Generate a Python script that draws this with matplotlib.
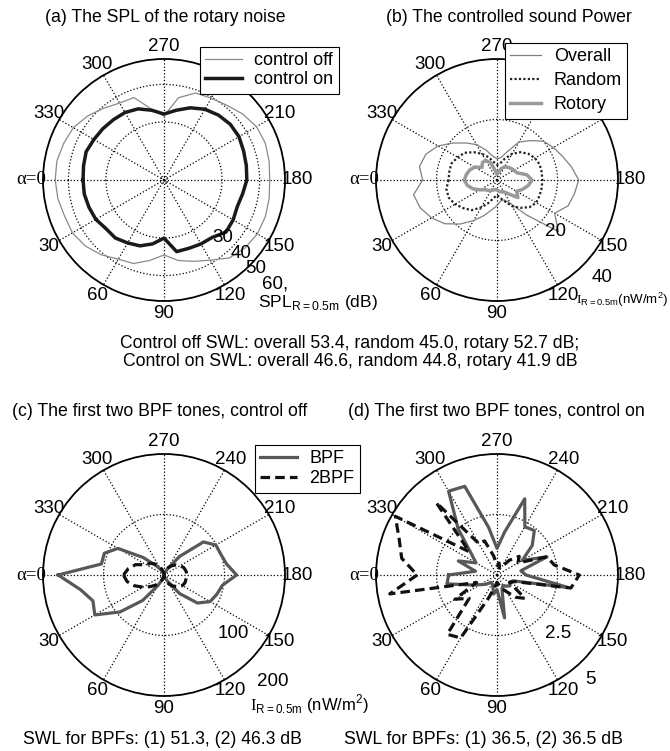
import numpy as np
import matplotlib.pyplot as plt
from matplotlib.lines import Line2D

W, H = 670, 751
plt.rcParams['font.family'] = ['Liberation Sans', 'DejaVu Sans']
plt.rcParams['font.size'] = 12.7
plt.rcParams['mathtext.fontset'] = 'custom'
plt.rcParams['mathtext.rm'] = 'Liberation Serif'
plt.rcParams['mathtext.sf'] = 'Liberation Sans'

# measurement angles (deg), alpha = 0 on the left, 90 at the bottom
angles_deg = [0, 10, 20, 30, 40, 50, 60, 70, 80, 90, 100, 110,
              120, 130, 140, 150, 160, 170, 180, 190, 200, 210, 220, 230,
              240, 250, 260, 270, 280, 290, 300, 310, 320, 330, 340, 350]

# (a) SPL of the rotary noise at R = 0.5 m, dB
spl_off = [55.2, 54.8, 54.0, 54.0, 52.8, 50.8, 48.9, 48.2, 46.3, 44.5, 46.3, 47.6,
           49.2, 52.4, 54.0, 54.8, 54.8, 54.4, 54.0, 54.4, 54.8, 54.4, 52.8, 50.8,
           49.7, 49.2, 46.8, 41.6, 43.7, 47.9, 48.2, 49.5, 51.6, 53.6, 54.4, 55.2]
spl_on = [46.1, 46.1, 45.8, 45.5, 44.7, 44.7, 43.9, 43.2, 41.8, 40.0, 43.9, 43.9,
          44.2, 44.5, 46.1, 45.8, 45.3, 45.8, 46.6, 46.8, 47.1, 47.6, 47.6, 47.1,
          46.3, 45.0, 43.4, 42.1, 43.4, 44.7, 45.3, 45.5, 45.8, 46.1, 46.6, 46.3]

# (b) controlled intensity, nW/m^2
i_overall = [24.6, 28.0, 27.0, 25.0, 22.5, 19.0, 15.5, 12.5, 10.0, 8.5, 7.0, 7.0,
             9.0, 15.0, 26.5, 22.0, 25.0, 26.0, 27.0, 25.0, 23.0, 21.5, 20.0, 17.0,
             14.5, 10.0, 7.5, 7.0, 8.0, 10.5, 13.5, 16.0, 19.0, 22.5, 25.0, 26.0]
i_random = [16.0, 17.0, 17.0, 16.0, 14.5, 13.0, 10.5, 8.0, 6.0, 5.0, 6.0, 7.5,
            10.0, 12.0, 14.0, 15.0, 15.0, 15.0, 15.0, 15.0, 15.0, 14.5, 13.5, 12.0,
            10.0, 7.5, 5.5, 5.0, 6.0, 8.0, 10.0, 12.0, 14.0, 15.0, 16.0, 16.0]
i_rotory = [10.8, 10.0, 8.5, 6.5, 5.0, 4.5, 4.0, 3.5, 3.2, 3.3, 3.8, 4.2,
            4.5, 6.0, 9.0, 7.5, 9.0, 10.5, 11.6, 10.0, 7.0, 6.5, 6.0, 5.5,
            5.0, 4.0, 2.5, 1.8, 3.0, 6.0, 7.5, 7.5, 6.5, 8.5, 9.6, 10.3]

# (c) BPF tones, control off, nW/m^2
bpf_off = [175, 140, 125, 132, 95, 55, 20, 8, 4, 2, 3, 5,
           12, 40, 72, 88, 93, 98, 120, 105, 100, 99, 85, 40,
           12, 5, 3, 2, 3, 5, 10, 20, 45, 88, 105, 105]
bpf2_off = [67, 62, 52, 40, 30, 22, 14, 8, 3, 1, 6, 12,
            18, 24, 30, 35, 37, 37, 38, 37, 35, 31, 26, 20,
            14, 8, 3, 1, 4, 10, 17, 24, 30, 34, 50, 60]

# (d) BPF tones, control on, nW/m^2
bpf_on = [2.0, 2.1, 1.2, 0.8, 0.6, 0.4, 0.4, 0.5, 0.8, 0.6, 1.8, 0.6,
          0.5, 0.6, 0.7, 0.6, 0.7, 3.0, 1.2, 1.0, 2.2, 1.2, 1.9, 2.4,
          2.3, 3.35, 1.8, 1.1, 2.0, 3.9, 4.0, 2.5, 1.4, 1.0, 1.7, 0.9]
bpf2_on = [3.3, 4.5, 0.9, 2.0, 1.5, 3.2, 3.0, 1.0, 0.5, 0.3, 0.4, 0.6,
           0.8, 1.2, 1.5, 0.6, 0.8, 3.1, 3.4, 2.4, 2.2, 1.0, 1.2, 0.8,
           0.4, 0.3, 0.5, 0.4, 0.8, 1.5, 1.5, 3.9, 1.5, 4.85, 4.3, 4.0]

# SPL rings are not evenly spaced on the radius
spl_knots = [29.4, 30, 40, 50, 60]
spl_pos = [0.0, 0.025, 0.48, 0.79, 1.0]


def spl_fwd(v):
    return np.interp(v, spl_knots, spl_pos)


def spl_inv(p):
    return np.interp(p, spl_pos, spl_knots)


def closed(vals):
    th = np.deg2rad(angles_deg + [angles_deg[0]])
    return th, np.asarray(list(vals) + [vals[0]])


def box(cx, cy, r=121):
    return [(cx - r) / W, 1 - (cy + r) / H, 2 * r / W, 2 * r / H]


def ftext(x, y, s, **kw):
    fig.text(x / W, 1 - y / H, s, **kw)


def setup(ax, rmin, rmax, rings):
    ax.set_theta_zero_location('W')
    ax.set_theta_direction(1)
    ax.set_rlim(rmin, rmax)
    ax.set_xticks(np.deg2rad(np.arange(0, 360, 30)))
    ax.set_xticklabels([])
    ax.set_yticks(rings)
    ax.set_yticklabels([])
    ax.grid(True, color='black', linestyle=':', linewidth=0.9)
    ax.spines['polar'].set_linewidth(1.3)
    for a in range(0, 360, 30):
        t = np.deg2rad(a)
        x = 0.5 - 0.55 * np.cos(t)
        y = 0.5 - 0.55 * np.sin(t)
        if a == 0:
            ax.text(x, y, 'α=0', transform=ax.transAxes, ha='center', va='center',
                    family='Liberation Serif', fontsize=13.5)
        else:
            ax.text(x, y, str(a), transform=ax.transAxes, ha='center', va='center',
                    fontsize=13.5)


def add_legend(ax, handles, labels, x, y, spacing, hlen=2.0):
    leg = ax.legend(handles, labels, loc='upper left', bbox_to_anchor=(x / W, 1 - y / H),
                    bbox_transform=fig.transFigure, fancybox=False, framealpha=1,
                    edgecolor='black', borderpad=0.3, labelspacing=spacing,
                    handlelength=hlen, handletextpad=0.7, borderaxespad=0, fontsize=13)
    leg.get_frame().set_linewidth(0.8)
    leg.set_zorder(10)
    return leg


fig = plt.figure(figsize=(W / 100, H / 100), dpi=100)

# (a)
ax_a = fig.add_axes(box(164, 180), projection='polar')
ax_a.set_rscale('function', functions=(spl_fwd, spl_inv))
setup(ax_a, 29.4, 60, [30, 40, 50])
th, r = closed(spl_off)
ax_a.plot(th, r, color='#8a8a8a', lw=0.9)
th, r = closed(spl_on)
ax_a.plot(th, r, color='#1a1a1a', lw=2.5)
add_legend(ax_a, [Line2D([], [], color='#8a8a8a', lw=0.9),
                  Line2D([], [], color='#1a1a1a', lw=2.5)],
           ['control off', 'control on'], 200, 47, 0.1)

# (b)
ax_b = fig.add_axes(box(497, 180), projection='polar')
setup(ax_b, 0, 40, [20])
th, r = closed(i_overall)
ax_b.plot(th, r, color='#808080', lw=0.9)
th, r = closed(i_random)
ax_b.plot(th, r, color='#222222', lw=1.6, linestyle=(0, (1, 1)))
th, r = closed(i_rotory)
ax_b.plot(th, r, color='#9a9a9a', lw=2.5)
add_legend(ax_b, [Line2D([], [], color='#808080', lw=0.9),
                  Line2D([], [], color='#222222', lw=1.6, linestyle=(0, (1, 1))),
                  Line2D([], [], color='#9a9a9a', lw=2.5)],
           ['Overall', 'Random', 'Rotory'], 505, 43, 0.38, hlen=1.7)

# (c)
ax_c = fig.add_axes(box(164, 575), projection='polar')
setup(ax_c, 0, 200, [100])
th, r = closed(bpf_off)
ax_c.plot(th, r, color='#585858', lw=2.3)
th, r = closed(bpf2_off)
ax_c.plot(th, r, color='#111111', lw=2.3, linestyle=(0, (3, 1.6)))
add_legend(ax_c, [Line2D([], [], color='#585858', lw=2.3),
                  Line2D([], [], color='#111111', lw=2.3, linestyle=(0, (3, 1.6)))],
           ['BPF', '2BPF'], 255, 445, 0.15)

# (d)
ax_d = fig.add_axes(box(497, 575), projection='polar')
setup(ax_d, 0, 5, [2.5])
th, r = closed(bpf_on)
ax_d.plot(th, r, color='#585858', lw=2.3)
th, r = closed(bpf2_on)
ax_d.plot(th, r, color='#111111', lw=2.3, linestyle=(0, (3, 1.6)))

# titles
ftext(165, 18, '(a) The SPL of the rotary noise', ha='center', va='center')
ftext(509, 18, '(b) The controlled sound Power', ha='center', va='center')
ftext(160, 412, '(c) The first two BPF tones, control off', ha='center', va='center')
ftext(496, 412, '(d) The first two BPF tones, control on', ha='center', va='center')

# ring values
for x, y, s in [(223, 238, '30'), (241, 254, '40'), (256, 269, '50'), (275, 284, '60,'),
                (555, 232, '20'), (602, 277, '40'),
                (233, 633, '100'), (273, 682, '200'),
                (558, 633, '2.5'), (590, 680, '5')]:
    ftext(x, y, s, ha='center', va='center', fontsize=13.5)
ftext(258, 303, r'SPL$_{\mathsf{R=0.5m}}$ (dB)', ha='left', va='center', fontsize=12.5)
ftext(576, 300, r'$\mathrm{I}_{\mathsf{R=0.5m}}$(nW/m$^{\mathsf{2}}$)', ha='left', va='center',
      fontsize=9.6)
ftext(250, 704, r'$\mathrm{I}_{\mathsf{R=0.5m}}$ (nW/m$^{\mathsf{2}}$)', ha='left', va='center',
      fontsize=12)

# sound power levels
ftext(350, 343, 'Control off SWL: overall 53.4, random 45.0, rotary 52.7 dB;',
      ha='center', va='center')
ftext(350, 361, 'Control on SWL: overall 46.6, random 44.8, rotary 41.9 dB',
      ha='center', va='center')
ftext(162, 740, 'SWL for BPFs: (1) 51.3, (2) 46.3 dB', ha='center', va='center')
ftext(483, 740, 'SWL for BPFs: (1) 36.5, (2) 36.5 dB', ha='center', va='center')

fig.savefig('out.png', dpi=100)
